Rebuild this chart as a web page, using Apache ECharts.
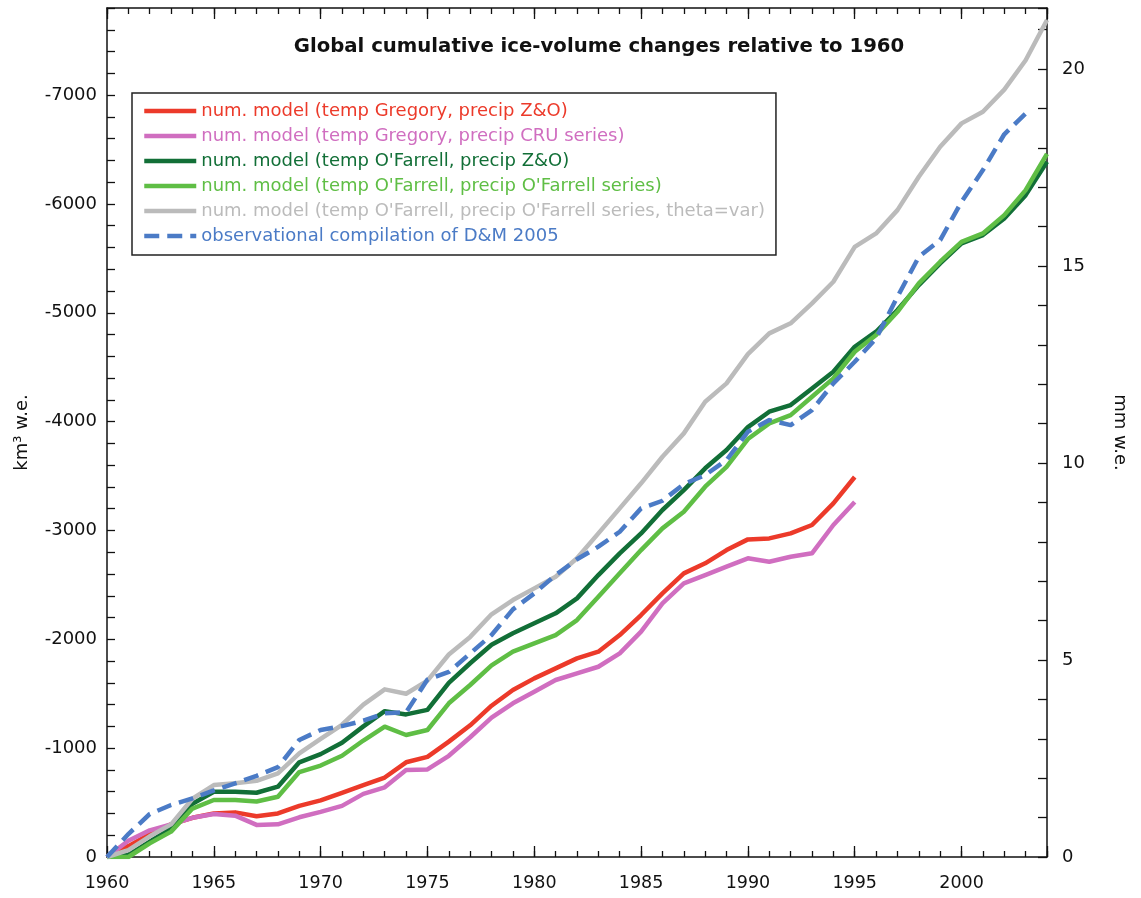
<!DOCTYPE html>
<html>
<head>
<meta charset="utf-8">
<script src="https://cdn.jsdelivr.net/npm/echarts@6/dist/echarts.min.js"></script>
<style>
  html, body { margin: 0; padding: 0; background: #ffffff; }
  #chart { width: 1141px; height: 898px; }
</style>
</head>
<body>
<div id="chart"></div>
<script>
// Years of the record (1960-2004)
const years = [
  1960, 1961, 1962, 1963, 1964, 1965, 1966, 1967, 1968, 1969,
  1970, 1971, 1972, 1973, 1974, 1975, 1976, 1977, 1978, 1979,
  1980, 1981, 1982, 1983, 1984, 1985, 1986, 1987, 1988, 1989,
  1990, 1991, 1992, 1993, 1994, 1995, 1996, 1997, 1998, 1999,
  2000, 2001, 2002, 2003, 2004
];

// Cumulative ice-volume change since 1960, km3 water equivalent
const gregoryZO = [
  0, -100, -210, -300, -360, -400, -410, -375, -400, -470,
  -520, -590, -660, -730, -870, -920, -1060, -1210, -1390, -1534,
  -1641, -1733, -1825, -1886, -2039, -2223, -2422, -2606, -2698, -2820,
  -2918, -2927, -2973, -3050, -3249, -3491
];
const gregoryCRU = [
  0, -150, -245, -300, -360, -395, -380, -295, -300, -365,
  -415, -470, -580, -640, -800, -805, -930, -1100, -1280, -1412,
  -1519, -1626, -1687, -1748, -1871, -2070, -2330, -2514, -2590, -2667,
  -2744, -2713, -2759, -2790, -3050, -3261
];
const ofarrellZO = [
  0, -20, -140, -263, -490, -600, -600, -590, -646, -870,
  -945, -1050, -1200, -1340, -1310, -1352, -1600, -1780, -1950, -2055,
  -2147, -2239, -2376, -2590, -2790, -2973, -3188, -3371, -3571, -3739,
  -3950, -4091, -4152, -4305, -4458, -4688, -4826, -5025, -5254, -5453,
  -5637, -5714, -5867, -6081, -6387
];
const ofarrellOF = [
  0, 0, -125, -233, -445, -524, -524, -510, -554, -780,
  -840, -930, -1070, -1197, -1121, -1167, -1412, -1580, -1760, -1886,
  -1963, -2039, -2177, -2391, -2606, -2820, -3019, -3172, -3402, -3585,
  -3840, -3984, -4060, -4228, -4397, -4642, -4795, -5009, -5270, -5469,
  -5652, -5729, -5897, -6127, -6460
];
const ofarrellThetaVar = [
  0, -64, -190, -300, -535, -661, -677, -700, -769, -952,
  -1085, -1215, -1400, -1540, -1500, -1620, -1860, -2022, -2230, -2361,
  -2468, -2575, -2744, -2973, -3203, -3433, -3677, -3892, -4183, -4351,
  -4620, -4811, -4903, -5086, -5285, -5606, -5729, -5943, -6249, -6525,
  -6740, -6847, -7050, -7320, -7690
];
const observedDM2005 = [
  0, -211, -395, -478, -539, -612, -677, -745, -825, -1075,
  -1167, -1203, -1252, -1320, -1330, -1630, -1700, -1870, -2040, -2275,
  -2422, -2590, -2735, -2851, -2988, -3203, -3273, -3426, -3509, -3647,
  -3907, -4014, -3968, -4106, -4351, -4550, -4765, -5147, -5514, -5668,
  -6020, -6311, -6640, -6830
];

const seriesNames = [
  'num. model (temp Gregory, precip Z&O)',
  'num. model (temp Gregory, precip CRU series)',
  "num. model (temp O'Farrell, precip Z&O)",
  "num. model (temp O'Farrell, precip O'Farrell series)",
  "num. model (temp O'Farrell, precip O'Farrell series, theta=var)",
  'observational compilation of D&M 2005'
];
const seriesValues = [gregoryZO, gregoryCRU, ofarrellZO, ofarrellOF, ofarrellThetaVar, observedDM2005];

// Left axis ticks (km3) and right axis ticks (mm sea-level equivalent)
const kmTickLabels = [0, -1000, -2000, -3000, -4000, -5000, -6000, -7000];
const mmTickLabels = [0, 5, 10, 15, 20];
const yearTickLabels = [1960, 1965, 1970, 1975, 1980, 1985, 1990, 1995, 2000];

const KM3_PER_MM = 362;     // ocean-area conversion between the two y scales
const KM3_AXIS_MIN = -7800;

const colors = ['#ec3a2a', '#d06ec0', '#126f37', '#5fbe45', '#bbbbbb', '#4b7bc6'];
const FONT = 'DejaVu Sans';
const INK = '#111111';

const frameLine = { color: INK, width: 1.5 };
const tickLine = { color: INK, width: 1.3 };

function xAxisDef(position, interval, tickLen, showLine, showLabels) {
  return {
    type: 'value', position: position, min: 1960, max: 2004, interval: interval,
    axisLine: { show: showLine, onZero: false, lineStyle: frameLine },
    axisTick: { show: true, inside: true, length: tickLen, lineStyle: tickLine },
    splitLine: { show: false },
    axisLabel: {
      show: showLabels, margin: 17, fontFamily: FONT, fontSize: 17.5, color: INK,
      formatter: v => (yearTickLabels.indexOf(v) >= 0 ? String(v) : '')
    }
  };
}

const chart = echarts.init(document.getElementById('chart'), null, { renderer: 'canvas' });

const option = {
  animation: false,
  backgroundColor: '#ffffff',
  title: {
    text: 'Global cumulative ice-volume changes relative to 1960',
    left: 599, top: 37, textAlign: 'center', padding: 0,
    textStyle: { fontFamily: FONT, fontWeight: 'bold', fontSize: 19.7, color: INK }
  },
  legend: {
    orient: 'vertical', left: 132, top: 93,
    padding: [8, 11, 9, 10],
    itemWidth: 52, itemHeight: 14, itemGap: 5,
    borderColor: '#222222', borderWidth: 1.5, backgroundColor: '#ffffff',
    selectedMode: false,
    itemStyle: { opacity: 0 },
    lineStyle: { width: 4.5 },
    textStyle: { fontFamily: FONT, fontSize: 18, lineHeight: 20 },
    data: seriesNames.map((n, i) => ({ name: n, textStyle: { color: colors[i] } }))
  },
  grid: { left: 107, right: 94, top: 8, bottom: 41, containLabel: false, outerBoundsMode: 'none' },
  xAxis: [
    xAxisDef('bottom', 1, 6, true, false),
    xAxisDef('bottom', 5, 11, false, true),
    xAxisDef('top', 1, 6, true, false),
    xAxisDef('top', 5, 11, false, false)
  ],
  yAxis: [
    {
      type: 'value', position: 'left', inverse: true,
      min: KM3_AXIS_MIN, max: 0, interval: 200,
      axisLine: { show: true, onZero: false, lineStyle: frameLine },
      axisTick: { show: true, inside: true, length: 8, lineStyle: tickLine },
      splitLine: { show: false },
      axisLabel: {
        margin: 10, fontFamily: FONT, fontSize: 18, color: INK,
        formatter: v => (kmTickLabels.indexOf(v) >= 0 ? String(v) : '')
      },
      name: 'km\u00b3 w.e.', nameLocation: 'middle', nameGap: 76, nameRotate: 90,
      nameTextStyle: { fontFamily: FONT, fontSize: 18, color: INK }
    },
    {
      type: 'value', position: 'right',
      min: 0, max: -KM3_AXIS_MIN / KM3_PER_MM, interval: 1,
      axisLine: { show: true, onZero: false, lineStyle: frameLine },
      axisTick: { show: true, inside: true, length: 9, lineStyle: tickLine },
      splitLine: { show: false },
      axisLabel: {
        margin: 15, fontFamily: FONT, fontSize: 18, color: INK,
        formatter: v => (mmTickLabels.indexOf(v) >= 0 ? String(v) : '')
      },
      name: 'mm w.e.', nameLocation: 'middle', nameGap: 64, nameRotate: -90,
      nameTextStyle: { fontFamily: FONT, fontSize: 18, color: INK }
    }
  ],
  series: seriesValues.map((vals, i) => ({
    type: 'line',
    name: seriesNames[i],
    xAxisIndex: 0, yAxisIndex: 0,
    data: vals.map((v, k) => [years[k], v]),
    symbol: 'none',
    smooth: false,
    z: 2 + i,
    itemStyle: { color: colors[i] },
    lineStyle: {
      color: colors[i], width: 4.5, join: 'round',
      type: i === 5 ? [15, 8] : 'solid'
    }
  }))
};

chart.setOption(option);
</script>
</body>
</html>
